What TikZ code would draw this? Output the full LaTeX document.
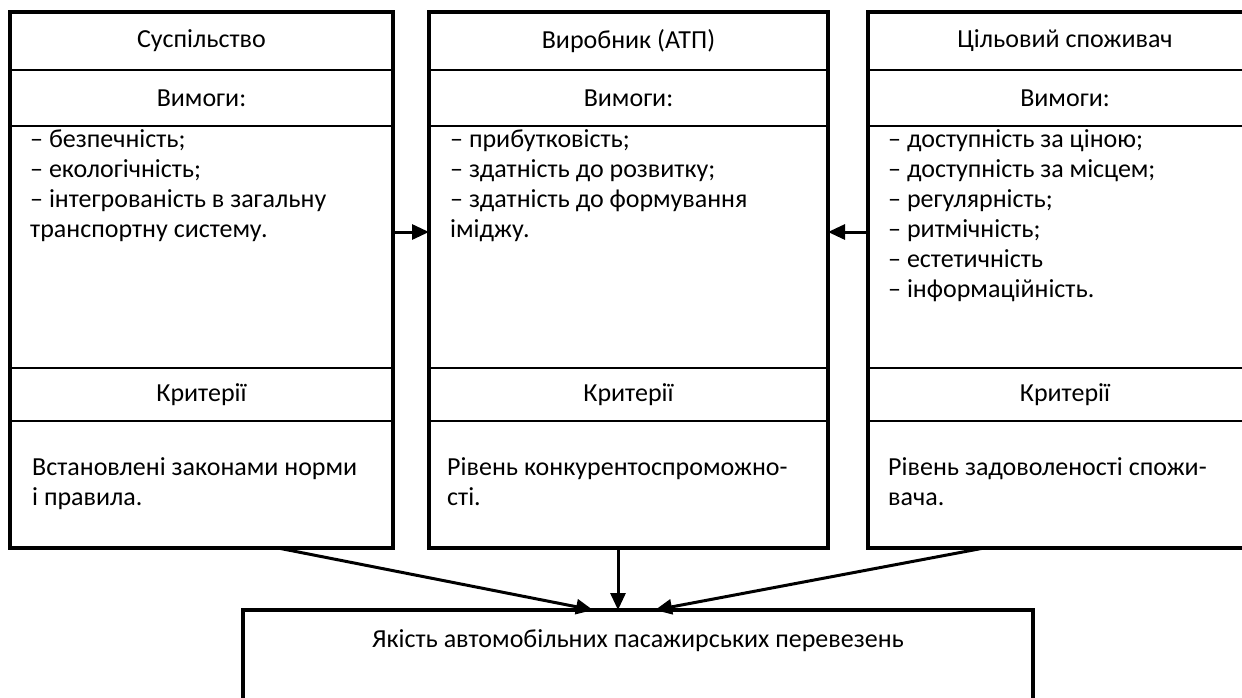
\documentclass[tikz,border=0pt]{standalone}
\usepackage{fontspec}
\setmainfont{Carlito}
\usetikzlibrary{arrows.meta}

\tikzset{
  cell/.style={draw,line width=1.8pt,inner sep=0pt,outer sep=0pt},
  colS/.style={minimum width=383pt},
  colP/.style={minimum width=399pt},
  colC/.style={minimum width=394pt},
  rowT/.style={minimum height=58pt},
  rowV/.style={minimum height=56pt},
  rowL/.style={minimum height=242pt},
  rowK/.style={minimum height=53pt},
  rowN/.style={minimum height=127pt},
  txt/.style={inner sep=0pt,anchor=base west,align=left},
  frame/.style={line width=3.5pt},
  link/.style={line width=3pt,-{Triangle[length=17pt,width=15pt]}},
}

\begin{document}
\begin{tikzpicture}[x=1pt,y=-1pt,font=\fontsize{26}{30}\selectfont]
\useasboundingbox (0,0) rectangle (1242,697);
%% society
\node (Stitle) at (201.5,41) [cell,colS,rowT] {Суспільство};
  \node (Sreq) at (201.5,98) [cell,colS,rowV] {Вимоги:};
  \node (Slist) at (201.5,247) [cell,colS,rowL] {};
  \node (Scrit) at (201.5,394.5) [cell,colS,rowK] {Критерії};
  \node (Snorm) at (201.5,484.5) [cell,colS,rowN] {};
  \draw [frame] (Stitle.north west) rectangle (Snorm.south east);
  \node (Slisttext) at (30,237) [txt] {– безпечність;\\– екологічність;\\– інтегрованість в загальну\\транспортну систему.};
  \node (Snormtext) at (32,505) [txt] {Встановлені законами норми\\і правила.};
%% producer
\node (Ptitle) at (628.5,41) [cell,colP,rowT] {Виробник (АТП)};
  \node (Preq) at (628.5,98) [cell,colP,rowV] {Вимоги:};
  \node (Plist) at (628.5,247) [cell,colP,rowL] {};
  \node (Pcrit) at (628.5,394.5) [cell,colP,rowK] {Критерії};
  \node (Pnorm) at (628.5,484.5) [cell,colP,rowN] {};
  \draw [frame] (Ptitle.north west) rectangle (Pnorm.south east);
  \node (Plisttext) at (450,237) [txt] {– прибутковість;\\– здатність до розвитку;\\– здатність до формування\\іміджу.};
  \node (Pnormtext) at (447,505) [txt] {Рівень конкурентоспроможно-\\сті.};
%% consumer
\node (Ctitle) at (1065,41) [cell,colC,rowT] {Цільовий споживач};
  \node (Creq) at (1065,98) [cell,colC,rowV] {Вимоги:};
  \node (Clist) at (1065,247) [cell,colC,rowL] {};
  \node (Ccrit) at (1065,394.5) [cell,colC,rowK] {Критерії};
  \node (Cnorm) at (1065,484.5) [cell,colC,rowN] {};
  \draw [frame] (Ctitle.north west) rectangle (Cnorm.south east);
  \node (Clisttext) at (888,297) [txt] {– доступність за ціною;\\– доступність за місцем;\\– регулярність;\\– ритмічність;\\– естетичність\\– інформаційність.};
  \node (Cnormtext) at (888,505) [txt] {Рівень задоволеності спожи-\\вача.};
%% quality
\node (quality) at (638,670) [cell,frame,minimum width=790pt,minimum height=120pt] {};
  \node (qualitytext) at (638,647) [inner sep=0pt,anchor=base] {Якість автомобільних пасажирських перевезень};
%
  \draw [link] ([yshift=15pt]Slist.east) -- ([yshift=15pt]Plist.west);
  \draw [link] ([yshift=15pt]Clist.west) -- ([yshift=15pt]Plist.east);
  \draw [link] ([xshift=76.5pt]Snorm.south) -- ([xshift=-45pt]quality.north);
  \draw [link] ([xshift=-10.5pt]Pnorm.south) -- ([xshift=-20pt]quality.north);
  \draw [link] ([xshift=-81pt]Cnorm.south) -- ([xshift=17pt]quality.north);
%
\end{tikzpicture}
\end{document}
